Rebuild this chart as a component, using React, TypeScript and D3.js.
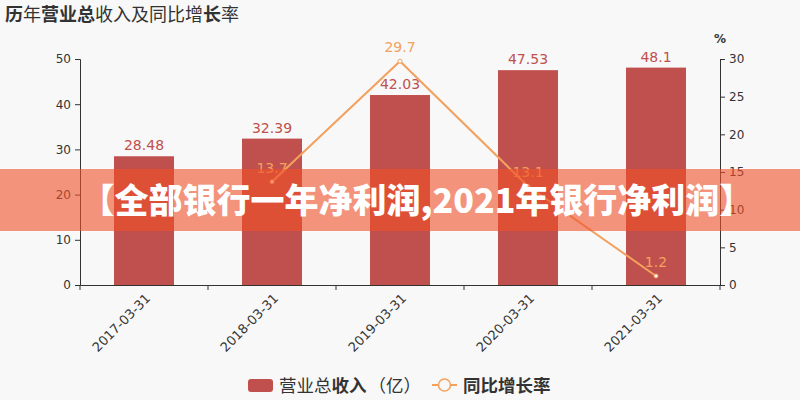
import React, { useRef, useEffect } from 'react';
import * as d3 from 'd3';

// Chart data
const categories = ['2017-03-31', '2018-03-31', '2019-03-31', '2020-03-31', '2021-03-31'];
const revenue = [28.48, 32.39, 42.03, 47.53, 48.1];
const growth: (number | null)[] = [null, 13.7, 29.7, 13.1, 1.2];
const leftTicks = [0, 10, 20, 30, 40, 50];
const rightTicks = [0, 5, 10, 15, 20, 25, 30];

const BAR_COLOR = '#c0504d';
const LINE_COLOR = '#f3a15e';
const FONT = '"DejaVu Sans", "Noto Sans CJK SC", sans-serif';
const CJK = '"Noto Sans CJK SC", sans-serif';

export default function App() {
  const svgRef = useRef<SVGSVGElement>(null);
  const width = 800;
  const height = 400;

  useEffect(() => {
    const svg = d3.select(svgRef.current);
    svg.selectAll('*').remove();

    svg.append('rect').attr('width', width).attr('height', height).attr('fill', '#f8f8f8');

    const margin = { top: 59, right: 80, bottom: 115, left: 80 };
    const innerWidth = width - margin.left - margin.right;
    const innerHeight = height - margin.top - margin.bottom;

    const g = svg.append('g').attr('transform', `translate(${margin.left},${margin.top})`);

    const x = d3.scaleBand().domain(categories).range([0, innerWidth]).padding(0);
    const yLeft = d3.scaleLinear().domain([0, 50]).range([innerHeight, 0]);
    const yRight = d3.scaleLinear().domain([0, 30]).range([innerHeight, 0]);
    const barWidth = 60;

    // bars
    g.selectAll('.bar')
      .data(revenue)
      .enter()
      .append('rect')
      .attr('x', (d, i) => x(categories[i])! + x.bandwidth() / 2 - barWidth / 2)
      .attr('width', barWidth)
      .attr('y', d => yLeft(d))
      .attr('height', d => innerHeight - yLeft(d))
      .attr('fill', BAR_COLOR);

    g.selectAll('.bar-label')
      .data(revenue)
      .enter()
      .append('text')
      .attr('x', (d, i) => x(categories[i])! + x.bandwidth() / 2)
      .attr('y', d => yLeft(d) - 6)
      .attr('text-anchor', 'middle')
      .style('font-family', FONT)
      .style('font-size', '14px')
      .style('fill', BAR_COLOR)
      .text(d => String(d));

    // axes
    const axisStyle = (sel: any, size = '12px') => {
      sel.selectAll('text').style('font-family', FONT).style('font-size', size).style('fill', '#333');
      sel.selectAll('line, path').attr('stroke', '#333');
    };

    const xAxis = g.append('g')
      .attr('transform', `translate(0,${innerHeight})`)
      .call(d3.axisBottom(x).tickSize(0).tickSizeOuter(0));
    // boundary ticks
    d3.range(categories.length + 1).forEach(i => {
      xAxis.append('line')
        .attr('x1', i * x.bandwidth()).attr('x2', i * x.bandwidth())
        .attr('y1', 0).attr('y2', 5)
        .attr('stroke', '#333');
    });
    xAxis.selectAll('.tick text')
      .attr('transform', 'translate(4,11) rotate(-45)')
      .attr('text-anchor', 'end')
      .attr('dy', '0.35em')
      .attr('y', 0)
      .attr('x', 0);
    axisStyle(xAxis, '13px');

    const yAxisL = g.append('g').call(d3.axisLeft(yLeft).tickValues(leftTicks).tickSize(5).tickPadding(4));
    axisStyle(yAxisL);

    const yAxisR = g.append('g')
      .attr('transform', `translate(${innerWidth},0)`)
      .call(d3.axisRight(yRight).tickValues(rightTicks).tickSize(5).tickPadding(4));
    axisStyle(yAxisR);

    g.append('text')
      .attr('x', innerWidth)
      .attr('y', -16)
      .attr('text-anchor', 'middle')
      .style('font-family', FONT)
      .style('font-size', '12px')
      .style('font-weight', 'bold')
      .style('fill', '#333')
      .text('%');

    // growth line
    const pts = growth
      .map((v, i) => ({ v, c: categories[i] }))
      .filter(p => p.v !== null) as { v: number; c: string }[];
    const line = d3.line<{ v: number; c: string }>()
      .x(d => x(d.c)! + x.bandwidth() / 2)
      .y(d => yRight(d.v));
    g.append('path')
      .datum(pts)
      .attr('d', line)
      .attr('fill', 'none')
      .attr('stroke', LINE_COLOR)
      .attr('stroke-width', 2);
    g.selectAll('.pt')
      .data(pts)
      .enter()
      .append('circle')
      .attr('cx', d => x(d.c)! + x.bandwidth() / 2)
      .attr('cy', d => yRight(d.v))
      .attr('r', 2)
      .attr('fill', '#fff')
      .attr('stroke', LINE_COLOR)
      .attr('stroke-width', 1);
    g.selectAll('.pt-label')
      .data(pts)
      .enter()
      .append('text')
      .attr('x', d => x(d.c)! + x.bandwidth() / 2)
      .attr('y', d => yRight(d.v) - 9)
      .attr('text-anchor', 'middle')
      .style('font-family', FONT)
      .style('font-size', '14px')
      .style('fill', LINE_COLOR)
      .text(d => String(d.v));

    // title
    const title = svg.append('text')
      .attr('x', 5)
      .attr('y', 21)
      .style('font-family', CJK)
      .style('font-size', '18px')
      .style('fill', '#333');
    [['历', true], ['年', false], ['营业总', true], ['收入及同比增', false], ['长', true], ['率', false]]
      .forEach(([t, b]) => {
        title.append('tspan').style('font-weight', b ? 'bold' : 'normal').text(t as string);
      });

    // legend
    const legend = svg.append('g');
    legend.append('rect')
      .attr('x', 248).attr('y', 379).attr('width', 25).attr('height', 13).attr('rx', 3)
      .attr('fill', BAR_COLOR);
    const lt = legend.append('text')
      .attr('x', 279).attr('y', 392)
      .style('font-family', CJK).style('font-size', '17.5px').style('fill', '#333');
    lt.append('tspan').text('营业总');
    lt.append('tspan').style('font-weight', 'bold').text('收入');
    lt.append('tspan').attr('dx', 2).text('（亿）');
    legend.append('line')
      .attr('x1', 432).attr('x2', 457).attr('y1', 385).attr('y2', 385)
      .attr('stroke', LINE_COLOR).attr('stroke-width', 2);
    legend.append('circle')
      .attr('cx', 444.5).attr('cy', 385).attr('r', 6)
      .attr('fill', '#f8f8f8').attr('stroke', LINE_COLOR).attr('stroke-width', 1.5);
    legend.append('text')
      .attr('x', 463).attr('y', 392)
      .style('font-family', CJK).style('font-size', '17.5px').style('fill', '#333')
      .style('font-weight', 'bold')
      .text('同比增长率');

    // banner overlay
    svg.append('rect')
      .attr('x', 0).attr('y', 169).attr('width', width).attr('height', 62)
      .attr('fill', 'rgb(240,80,40)').attr('opacity', 0.6);
    svg.append('text')
      .attr('x', 417).attr('y', 213)
      .attr('text-anchor', 'middle')
      .style('font-family', CJK)
      .style('font-size', '34px')
      .style('font-weight', '900')
      .style('fill', '#fff')
      .text('【全部银行一年净利润,2021年银行净利润】');
  }, []);

  return (
    <div style={{ position: 'fixed', top: 0, left: 0 }}>
      <svg ref={svgRef} width={width} height={height} style={{ display: 'block' }} />
    </div>
  );
}
